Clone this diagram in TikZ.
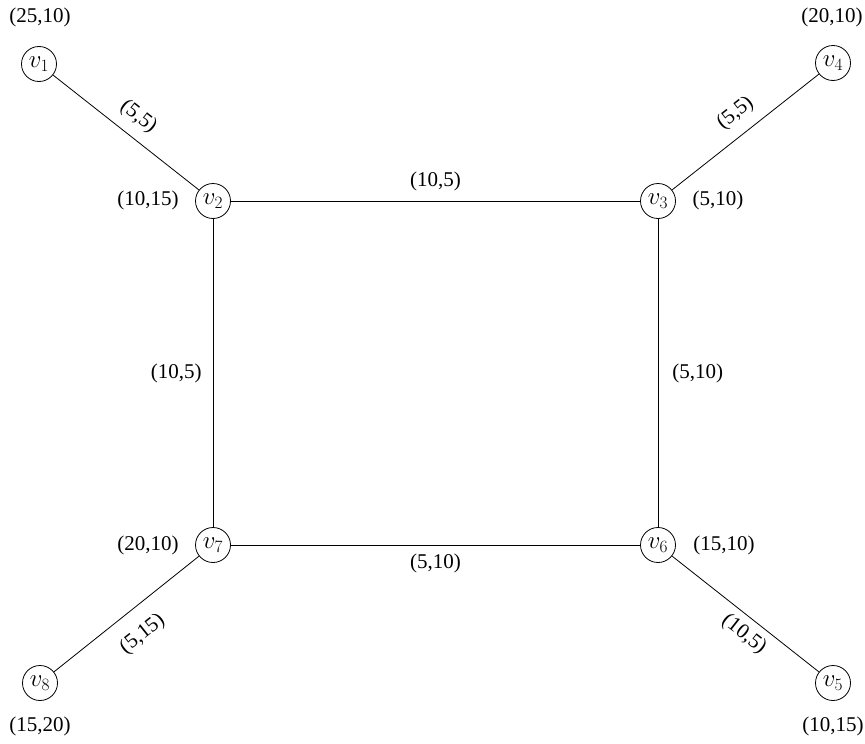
\documentclass[tikz,border=0pt]{standalone}
\usepackage{fontspec}
\setmainfont{Liberation Serif}
\begin{document}
\begin{tikzpicture}[x=1pt,y=-1pt,
  vertex/.style={draw,circle,line width=0.8pt,minimum size=35pt,inner sep=0pt,font=\fontsize{23}{27}\selectfont},
  lbl/.style={font=\fontsize{21}{25}\selectfont,inner sep=2pt},
  edge/.style={line width=0.8pt}]
\useasboundingbox (0,0) rectangle (865,744);
\node[vertex] (v1) at (39,64) {$v_1$};
\node[vertex] (v2) at (213,201) {$v_2$};
\node[vertex] (v3) at (658,201) {$v_3$};
\node[vertex] (v4) at (833,63) {$v_4$};
\node[vertex] (v5) at (833,683) {$v_5$};
\node[vertex] (v6) at (658,545) {$v_6$};
\node[vertex] (v7) at (213,545) {$v_7$};
\node[vertex] (v8) at (40,683) {$v_8$};
% vertex weights
\node[lbl] (w1) at (40,17) {(25,10)};
\node[lbl] (w2) at (148,200) {(10,15)};
\node[lbl] (w3) at (718,200) {(5,10)};
\node[lbl] (w4) at (832,17) {(20,10)};
\node[lbl] (w5) at (833,726) {(10,15)};
\node[lbl] (w6) at (724,545) {(15,10)};
\node[lbl] (w7) at (148,545) {(20,10)};
\node[lbl] (w8) at (40,726) {(15,20)};
% edges
\draw[edge] (v1) -- node[lbl,sloped,above=8pt,pos=0.5] {(5,5)} (v2);
\draw[edge] (v2) -- node[lbl,above=8pt] {(10,5)} (v3);
\draw[edge] (v3) -- node[lbl,sloped,above=9pt,pos=0.52] {(5,5)} (v4);
\draw[edge] (v2) -- node[lbl,left=9pt] {(10,5)} (v7);
\draw[edge] (v3) -- node[lbl,right=12pt] {(5,10)} (v6);
\draw[edge] (v7) -- node[lbl,below=7pt] {(5,10)} (v6);
\draw[edge] (v8) -- node[lbl,sloped,below=14pt,pos=0.5] {(5,15)} (v7);
\draw[edge] (v6) -- node[lbl,sloped,below=5pt,pos=0.56] {(10,5)} (v5);
\end{tikzpicture}
\end{document}
